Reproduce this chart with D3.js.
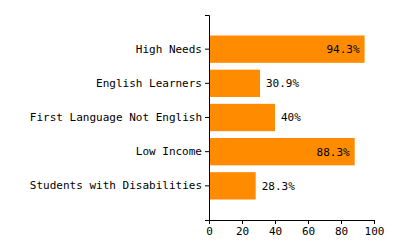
<!DOCTYPE html>
<html>
<head>
<meta charset="utf-8">
<script src="https://cdn.jsdelivr.net/npm/d3@7"></script>
<style>
  body { margin: 0; background: #fff; }
  text { font-family: "DejaVu Sans Mono", monospace; font-size: 11px; }
</style>
</head>
<body>
<svg id="chart" width="400" height="250"></svg>
<script>
// categories and values (percent)
let categories = ['High Needs', 'English Learners', 'First Language Not English', 'Low Income', 'Students with Disabilities'];
let values = [94.3, 30.9, 40, 88.3, 28.3];
let labels = ['94.3%', '30.9%', '40%', '88.3%', '28.3%'];
let xTicks = [0, 20, 40, 60, 80, 100];

let margin = {top: 15, right: 26, bottom: 30, left: 209};
let width = 400 - margin.left - margin.right;
let height = 250 - margin.top - margin.bottom;

let svg = d3.select('#chart')
    .append('g')
    .attr('transform', `translate(${margin.left},${margin.top})`);

let x = d3.scaleLinear().domain([0, 100]).range([0, width]);
let y = d3.scaleBand()
    .domain(categories)
    .range([0, height])
    .paddingInner(0.2)
    .paddingOuter(0.6);

let data = categories.map((c, i) => ({name: c, value: values[i], label: labels[i]}));

// bars
svg.selectAll('rect.bar')
    .data(data)
    .enter()
    .append('rect')
    .classed('bar', true)
    .attr('x', 0)
    .attr('y', d => y(d.name))
    .attr('width', d => x(d.value))
    .attr('height', y.bandwidth())
    .style('fill', '#ff8c00');

// value labels, inside for long bars
svg.selectAll('text.value')
    .data(data)
    .enter()
    .append('text')
    .classed('value', true)
    .attr('x', d => d.value > 60 ? x(d.value) - 5 : x(d.value) + 6)
    .attr('y', d => y(d.name) + y.bandwidth() / 2)
    .attr('dy', '0.35em')
    .attr('text-anchor', d => d.value > 60 ? 'end' : 'start')
    .style('fill', '#000')
    .text(d => d.label);

// axes
svg.append('g')
    .call(d3.axisLeft(y).tickSize(4).tickPadding(3))
    .call(g => g.selectAll('text').style('font-family', '"DejaVu Sans Mono", monospace').style('font-size', '11px'));

svg.append('g')
    .attr('transform', `translate(0,${height})`)
    .call(d3.axisBottom(x).tickValues(xTicks).tickSize(4).tickPadding(3))
    .call(g => g.selectAll('text').style('font-family', '"DejaVu Sans Mono", monospace').style('font-size', '11px'));
</script>
</body>
</html>
